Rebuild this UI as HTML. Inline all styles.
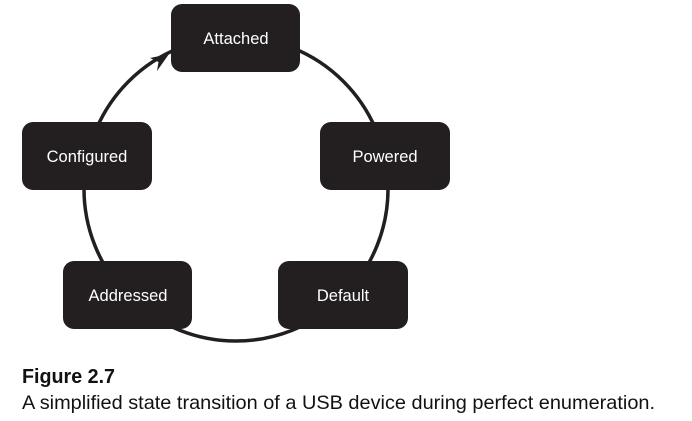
<!DOCTYPE html>
<html><head><meta charset="utf-8"><style>
html,body{margin:0;padding:0;background:#fff;}
svg{display:block}
</style></head><body>
<svg width="692" height="421" viewBox="0 0 692 421" xmlns="http://www.w3.org/2000/svg">
<circle cx="236" cy="189" r="152" fill="none" stroke="#231f20" stroke-width="3.5"/>
<g fill="#231f20">
<rect x="171" y="4" width="129" height="68" rx="11"/>
<rect x="320" y="122" width="130" height="68" rx="11"/>
<rect x="278" y="261" width="130" height="68" rx="11"/>
<rect x="63" y="261" width="129" height="68" rx="11"/>
<rect x="22" y="122" width="130" height="68" rx="11"/>
</g>
<polygon points="169,54 157,71 158.5,62 150,58" fill="#231f20"/>
<g fill="#fff" font-family="Liberation Sans, sans-serif" font-size="16.5" text-anchor="middle">
<text x="236" y="44">Attached</text>
<text x="385" y="162">Powered</text>
<text x="343" y="301">Default</text>
<text x="128" y="301">Addressed</text>
<text x="87" y="162">Configured</text>
</g>
<text x="22" y="383" font-family="Liberation Sans, sans-serif" font-weight="bold" font-size="20" textLength="93" lengthAdjust="spacingAndGlyphs" fill="#111">Figure 2.7</text>
<text x="22" y="409" font-family="Liberation Sans, sans-serif" font-size="19.5" textLength="633" lengthAdjust="spacingAndGlyphs" fill="#111">A simplified state transition of a USB device during perfect enumeration.</text>
</svg>
</body></html>
